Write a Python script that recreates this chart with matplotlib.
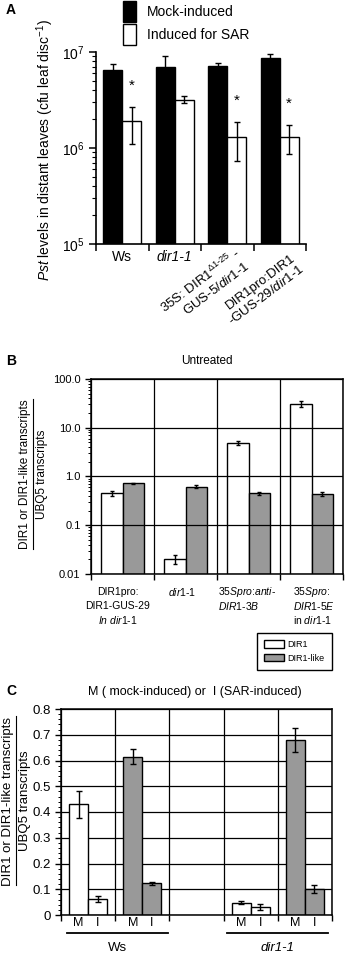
import matplotlib
matplotlib.use('Agg')
import matplotlib.pyplot as plt
import matplotlib.transforms as mtransforms
import numpy as np
from matplotlib.lines import Line2D
from matplotlib.patches import Patch
from matplotlib.ticker import LogLocator, MultipleLocator, NullFormatter

plt.rcParams['font.family'] = ['Liberation Sans', 'DejaVu Sans']
plt.rcParams['mathtext.fontset'] = 'custom'
plt.rcParams['mathtext.rm'] = 'Liberation Sans'
plt.rcParams['mathtext.it'] = 'Liberation Sans:italic'
plt.rcParams['mathtext.bf'] = 'Liberation Sans:bold'

# ---- data: panel A (Pst growth, cfu per leaf disc) ----
a_mock = [6.5e6, 6.9e6, 7.1e6, 8.7e6]
a_mock_err = [1.0e6, 2.2e6, 0.6e6, 0.85e6]
a_sar = [1.9e6, 3.2e6, 1.3e6, 1.3e6]
a_sar_err = [0.8e6, 0.28e6, 0.57e6, 0.44e6]
a_signif = [True, False, True, True]

# ---- data: panel B (untreated, transcripts / UBQ5) ----
b_dir1 = [0.45, 0.020, 4.9, 31.0]
b_dir1_err = [0.05, 0.004, 0.4, 4.0]
b_like = [0.72, 0.62, 0.45, 0.43]
b_like_err = [0.03, 0.04, 0.04, 0.04]
b_yticks = [0.01, 0.1, 1.0, 10.0, 100.0]
b_yticklabels = ['0.01', '0.1', '1.0', '10.0', '100.0']

# ---- data: panel C (M = mock, I = SAR-induced) ----
c_slots = [0, 1, 3, 4]
c_kind = ['DIR1', 'DIR1-like', 'DIR1', 'DIR1-like']
c_mock = [0.43, 0.615, 0.047, 0.68]
c_mock_err = [0.053, 0.03, 0.006, 0.048]
c_ind = [0.062, 0.124, 0.031, 0.10]
c_ind_err = [0.01, 0.006, 0.01, 0.015]
c_yticks = [0, 0.1, 0.2, 0.3, 0.4, 0.5, 0.6, 0.7, 0.8]
c_yticklabels = ['0', '0.1', '0.2', '0.3', '0.4', '0.5', '0.6', '0.7', '0.8']

GRAY = '#999999'
W, H = 347, 955
fig = plt.figure(figsize=(W / 100, H / 100), dpi=100)


def fx(px):
    return px / W


def fy(py):
    return 1 - py / H


def axes_px(left, top, right, bottom):
    return fig.add_axes([fx(left), fy(bottom), (right - left) / W, (bottom - top) / H])


err_kw = dict(ecolor='black', elinewidth=1, capsize=2, capthick=1)

# ================= Panel A =================
axA = axes_px(96, 52, 306, 244)
xa = np.arange(len(a_mock))
axA.bar(xa - 0.18, a_mock, 0.36, color='black', edgecolor='black', lw=1,
        yerr=a_mock_err, error_kw=err_kw)
axA.bar(xa + 0.18, a_sar, 0.36, color='white', edgecolor='black', lw=1,
        yerr=a_sar_err, error_kw=err_kw)
axA.set_yscale('log')
axA.set_ylim(1e5, 1e7)
axA.set_xlim(-0.5, 3.5)
axA.yaxis.set_major_locator(LogLocator(base=10, numticks=5))
axA.yaxis.set_minor_locator(LogLocator(base=10, subs=np.arange(2, 10), numticks=20))
axA.yaxis.set_minor_formatter(NullFormatter())
axA.set_xticks([-0.5, 0.5, 1.5, 2.5, 3.5])
axA.set_xticklabels([])
for s in ['top', 'right']:
    axA.spines[s].set_visible(False)
for s in ['left', 'bottom']:
    axA.spines[s].set_linewidth(1.2)
axA.tick_params(axis='both', which='major', direction='out', length=5, width=1.1, labelsize=10)
axA.tick_params(axis='y', which='minor', direction='out', length=3, width=0.8)

for i in range(len(a_sar)):
    if a_signif[i]:
        axA.text(i + 0.18, (a_sar[i] + a_sar_err[i]) * 1.65, '*', ha='center', va='center',
                 fontsize=11)

tA = mtransforms.blended_transform_factory(axA.transData, axA.transAxes)
axA.text(0, -0.07, 'Ws', transform=tA, ha='center', va='center', fontsize=10)
axA.text(1, -0.07, 'dir1-1', transform=tA, ha='center', va='center', fontsize=10,
         fontstyle='italic')
axA.text(2.13, -0.01, '35S: DIR1$^{\\Delta\\mathregular{1\\text{-}25}}$ -\nGUS-5/$\\mathit{dir1}$-$\\mathit{1}$',
         transform=tA, rotation=37, rotation_mode='anchor', ha='right', va='top',
         multialignment='right', fontsize=9.5)
axA.text(3.2, -0.04, 'DIR1pro:DIR1\n-GUS-29/$\\mathit{dir1}$-$\\mathit{1}$',
         transform=tA, rotation=37, rotation_mode='anchor', ha='right', va='top',
         multialignment='right', fontsize=9.5)

fig.text(fx(45), fy(150), '$\\mathit{Pst}$ levels in distant leaves (cfu leaf disc$^{\\mathregular{-1}}$)',
         rotation=90, ha='center', va='center', fontsize=10)

legA = fig.legend(handles=[Patch(facecolor='black', edgecolor='black', label='Mock-induced'),
                           Patch(facecolor='white', edgecolor='black', label='Induced for SAR')],
                  loc='upper left', bbox_to_anchor=(fx(123), fy(1)), frameon=False,
                  fontsize=10, handlelength=0.95, handleheight=1.9, handletextpad=0.8,
                  labelspacing=0.2, borderpad=0, borderaxespad=0)

fig.text(fx(11), fy(10), 'A', ha='center', va='center', fontsize=10, fontweight='bold')

# ================= Panel B =================
axB = axes_px(91, 379, 343, 574)
xb = np.arange(len(b_dir1))
axB.bar(xb - 0.17, b_dir1, 0.34, color='white', edgecolor='black', lw=1,
        yerr=b_dir1_err, error_kw=dict(err_kw, capsize=1.5), zorder=1)
axB.bar(xb + 0.17, b_like, 0.34, color=GRAY, edgecolor='black', lw=1,
        yerr=b_like_err, error_kw=dict(err_kw, capsize=1.5), zorder=1)
axB.set_yscale('log')
axB.set_ylim(0.01, 100)
axB.set_xlim(-0.5, 3.5)
axB.set_yticks(b_yticks)
axB.set_yticklabels(b_yticklabels)
axB.yaxis.set_minor_locator(LogLocator(base=10, subs=np.arange(2, 10), numticks=20))
axB.yaxis.set_minor_formatter(NullFormatter())
axB.set_xticks([-0.5, 0.5, 1.5, 2.5, 3.5])
axB.set_xticklabels([])
axB.set_axisbelow(False)
axB.grid(True, which='major', color='black', lw=0.9)
for s in axB.spines.values():
    s.set_linewidth(1.1)
axB.tick_params(axis='both', which='major', direction='out', length=4, width=1, labelsize=8)
axB.tick_params(axis='y', which='minor', direction='out', length=2, width=0.7)

tB = mtransforms.blended_transform_factory(axB.transData, axB.transAxes)
b_lines = [
    (-0.08, 'center', ['DIR1pro:', 'DIR1-GUS-29', '$\\mathit{In\\ dir1}$-$\\mathit{1}$']),
    (0.95, 'center', ['$\\mathit{dir1}$-$\\mathit{1}$']),
    (1.52, 'left', ['$\\mathit{35Spro}$:$\\mathit{anti}$-', '$\\mathit{DIR1}$-$\\mathit{3B}$']),
    (2.7, 'left', ['$\\mathit{35Spro}$:', '$\\mathit{DIR1}$-$\\mathit{5E}$', 'in $\\mathit{dir1}$-$\\mathit{1}$']),
]
for xpos, ha, lines in b_lines:
    for k, line in enumerate(lines):
        axB.text(xpos, -0.092 - 0.072 * k, line, transform=tB, ha=ha, va='center', fontsize=7.5)

fig.text(fx(207), fy(361), 'Untreated', ha='center', va='center', fontsize=8.5)
fig.text(fx(11), fy(361), 'B', ha='center', va='center', fontsize=10, fontweight='bold')

legB = fig.legend(handles=[Patch(facecolor='white', edgecolor='black', label='DIR1'),
                           Patch(facecolor=GRAY, edgecolor='black', label='DIR1-like')],
                  loc='upper left', bbox_to_anchor=(fx(257), fy(633)), fontsize=6.5,
                  frameon=True, fancybox=False, edgecolor='black', framealpha=1,
                  handlelength=2.2, handleheight=0.9, handletextpad=0.4,
                  labelspacing=0.5, borderpad=0.8, borderaxespad=0)
legB.get_frame().set_linewidth(1.0)

# ================= Panel C =================
axC = axes_px(61, 709, 332, 915)
for slot, kind, m, me, v, ve in zip(c_slots, c_kind, c_mock, c_mock_err, c_ind, c_ind_err):
    col = 'white' if kind == 'DIR1' else GRAY
    axC.bar([slot - 0.175, slot + 0.175], [m, v], 0.35, color=col, edgecolor='black', lw=1,
            yerr=[me, ve], error_kw=err_kw, zorder=2)
axC.set_ylim(0, 0.8)
axC.set_xlim(-0.5, 4.5)
axC.set_yticks(c_yticks)
axC.set_yticklabels(c_yticklabels)
axC.yaxis.set_minor_locator(MultipleLocator(0.02))
axC.set_xticks([-0.5, 0.5, 1.5, 2.5, 3.5, 4.5])
axC.set_xticklabels([])
axC.set_axisbelow(True)
axC.grid(True, which='major', color='black', lw=0.9)
for s in axC.spines.values():
    s.set_linewidth(1.1)
axC.tick_params(axis='both', which='major', direction='out', length=4, width=1, labelsize=9.5)
axC.tick_params(axis='y', which='minor', direction='out', length=2, width=0.7)

tC = mtransforms.blended_transform_factory(axC.transData, axC.transAxes)
for slot in c_slots:
    axC.text(slot - 0.175, -0.04, 'M', transform=tC, ha='center', va='center', fontsize=9)
    axC.text(slot + 0.175, -0.04, 'I', transform=tC, ha='center', va='center', fontsize=9)
for x0, x1, name, style in [(-0.39, 1.48, 'Ws', 'normal'), (2.56, 4.43, 'dir1-1', 'italic')]:
    axC.plot([x0, x1], [-0.088, -0.088], transform=tC, color='black', lw=1.3, clip_on=False)
    axC.text((x0 + x1) / 2, -0.16, name, transform=tC, ha='center', va='center',
             fontsize=9.5, fontstyle=style)

fig.text(fx(195), fy(692), 'M ( mock-induced) or  I (SAR-induced)', ha='center', va='center',
         fontsize=9)
fig.text(fx(11), fy(691), 'C', ha='center', va='center', fontsize=10, fontweight='bold')


# fraction-style y labels for B and C
def frac_label(x_num, x_bar, x_den, yc, size):
    num = fig.text(fx(x_num), fy(yc), 'DIR1 or DIR1-like transcripts', rotation=90,
                   ha='center', va='center', fontsize=size)
    fig.text(fx(x_den), fy(yc), 'UBQ5 transcripts', rotation=90, ha='center', va='center',
             fontsize=size)
    bb = num.get_window_extent(renderer=fig.canvas.get_renderer())
    fig.add_artist(Line2D([fx(x_bar), fx(x_bar)], [bb.y0 / H, bb.y1 / H], color='black', lw=0.8))


frac_label(25, 32.5, 42, 474, 8.5)
frac_label(8.5, 16, 25.5, 801, 9.5)

fig.savefig('out.png', dpi=100)
